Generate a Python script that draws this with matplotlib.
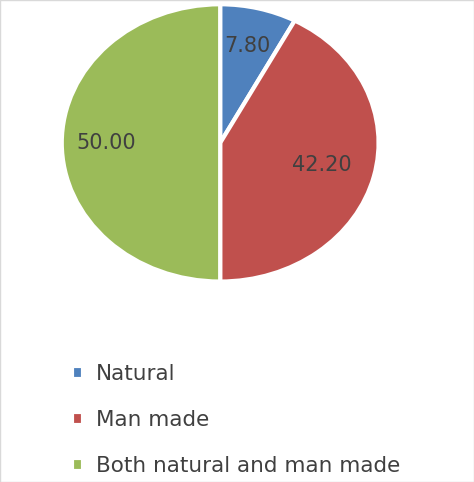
import matplotlib
matplotlib.use("Agg")
import matplotlib.pyplot as plt
import numpy as np

categories = ["Natural", "Man made", "Both natural and man made"]
values = [7.80, 42.20, 50.00]
colors = ["#4F81BD", "#C0504D", "#9BBB59"]

fig = plt.figure(figsize=(4.74, 4.82), dpi=100)
ax = fig.add_axes([0.127, 0.413, 0.675, 0.581])
wedges, texts = ax.pie(
    values, colors=colors, startangle=90, counterclock=False,
    wedgeprops=dict(edgecolor="white", linewidth=3))
ax.set_aspect("auto")
ax.set_xlim(-1.01, 1.01)
ax.set_ylim(-1.01, 1.01)
ang = 90
dists = [0.72, 0.66, 0.72]
for v, d in zip(values, dists):
    mid = np.deg2rad(ang - v / 100 * 360 / 2)
    ang -= v / 100 * 360
    ax.text(d * np.cos(mid), d * np.sin(mid), f"{v:.2f}", ha="center", va="center",
            fontsize=15, color="#404040")

leg = fig.legend(wedges, categories, loc="upper left", bbox_to_anchor=(0.11, 0.285),
                 frameon=False, fontsize=15.5, labelspacing=1.2, handlelength=0.55,
                 handleheight=0.55, handletextpad=0.6, labelcolor="#404040")
fig.patches.append(plt.Rectangle((0, 0), 1, 1, transform=fig.transFigure,
                                 fill=False, edgecolor="#D9D9D9", linewidth=1))
fig.savefig("out.png", dpi=100)
